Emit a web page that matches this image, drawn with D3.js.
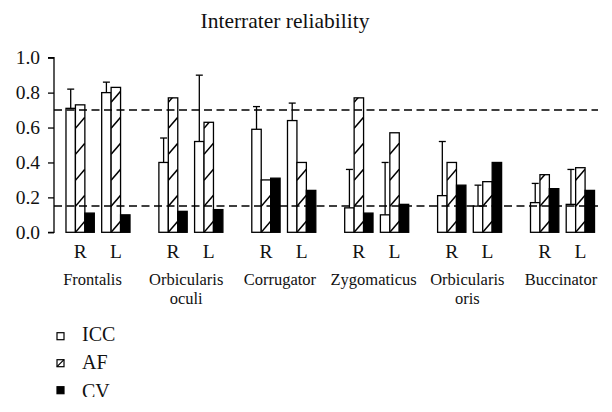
<!DOCTYPE html>
<html><head><meta charset="utf-8">
<script src="https://cdn.jsdelivr.net/npm/d3@7"></script>
<style>
body{margin:0;background:#fff;}
svg{display:block;}
</style></head>
<body>
<svg id="chart" width="612" height="412"></svg>
<script>
const muscles = ["Frontalis","Orbicularis oculi","Corrugator","Zygomaticus","Orbicularis oris","Buccinator"];
const muscleLabels = [["Frontalis"],["Orbicularis","oculi"],["Corrugator"],["Zygomaticus"],["Orbicularis","oris"],["Buccinator"]];
const sides = ["R","L"];
const measures = ["ICC","AF","CV"];
// values per muscle: [R, L]
const iccValues = [[0.71,0.80],[0.40,0.52],[0.59,0.64],[0.14,0.10],[0.21,0.15],[0.17,0.16]];
const iccUpper  = [[0.82,0.86],[0.54,0.90],[0.72,0.74],[0.36,0.40],[0.52,0.27],[0.28,0.36]];
const afValues  = [[0.73,0.83],[0.77,0.63],[0.30,0.40],[0.77,0.57],[0.40,0.29],[0.33,0.37]];
const cvValues  = [[0.11,0.10],[0.12,0.13],[0.31,0.24],[0.11,0.16],[0.27,0.40],[0.25,0.24]];
const yTicks = [0,0.2,0.4,0.6,0.8,1.0];
const thresholds = [0.7,0.15];
const title = "Interrater reliability";

const FONT = "'Liberation Serif','DejaVu Serif','Times New Roman',Times,serif";
const svg = d3.select("#chart").attr("font-family",FONT);
const y = d3.scaleLinear().domain([0,1]).range([232.3,57.7]);
const xM = d3.scaleBand().domain(muscles).range([54,606.5]).paddingInner(0.311).paddingOuter(0.129);
const xS = d3.scaleBand().domain(sides).range([0,xM.bandwidth()]).paddingInner(0.207);
const xB = d3.scaleBand().domain(measures).range([0,xS.bandwidth()]);
const xLab = d3.scalePoint().domain(muscles).range([92.5,561]);

function txt(sel){ return sel.style("font-family",FONT).attr("fill","#111"); }

// title
txt(svg.append("text")).attr("x",285).attr("y",28).attr("text-anchor","middle")
  .style("font-size","21.5px").text(title);

// y axis
const yAxis = d3.axisLeft(y).tickValues(yTicks).tickFormat(d3.format(".1f")).tickSize(6).tickPadding(8);
const ga = svg.append("g").attr("transform","translate(54,0)").call(yAxis).attr("font-family",FONT);
ga.select(".domain").attr("stroke","#000").attr("stroke-width",1.3).attr("d",`M-6,${y(1)}H0V${y(0)}H-6`);
ga.selectAll(".tick line").attr("stroke","#000").attr("stroke-width",1.3);
txt(ga.selectAll(".tick text")).style("font-size","19.5px");

const defs = svg.append("defs");
const rows = [];
muscles.forEach((m,i)=>{
  sides.forEach((s,j)=>{
    rows.push({m,i,s,j,ICC:iccValues[i][j],AF:afValues[i][j],CV:cvValues[i][j],up:iccUpper[i][j]});
  });
});

const gBars = svg.append("g");
rows.forEach((r,k)=>{
  const gx = xM(r.m)+xS(r.s);
  const bw = xB.bandwidth();
  const xi = gx+xB("ICC");
  const cx = xi+bw/2;
  gBars.append("line").attr("x1",cx).attr("x2",cx).attr("y1",y(r.ICC)).attr("y2",y(r.up)).attr("stroke","#000").attr("stroke-width",1.3);
  gBars.append("line").attr("x1",cx-3.5).attr("x2",cx+3.5).attr("y1",y(r.up)).attr("y2",y(r.up)).attr("stroke","#000").attr("stroke-width",1.3);
  gBars.append("rect").attr("x",xi).attr("y",y(r.ICC)).attr("width",bw).attr("height",y(0)-y(r.ICC))
    .attr("fill","#fff").attr("stroke","#000").attr("stroke-width",1.3);
  const xa = gx+xB("AF");
  const clipId = "clip"+k;
  defs.append("clipPath").attr("id",clipId).append("rect")
    .attr("x",xa).attr("y",y(r.AF)).attr("width",bw).attr("height",y(0)-y(r.AF));
  gBars.append("rect").attr("x",xa).attr("y",y(r.AF)).attr("width",bw).attr("height",y(0)-y(r.AF))
    .attr("fill","#fff");
  const hg = gBars.append("g").attr("clip-path",`url(#${clipId})`);
  for(let yy=y(0); yy>y(r.AF)-12; yy-=26){
    hg.append("line").attr("x1",xa).attr("y1",yy).attr("x2",xa+bw).attr("y2",yy-11)
      .attr("stroke","#000").attr("stroke-width",1.5);
  }
  gBars.append("rect").attr("x",xa).attr("y",y(r.AF)).attr("width",bw).attr("height",y(0)-y(r.AF))
    .attr("fill","none").attr("stroke","#000").attr("stroke-width",1.3);
  const xc = gx+xB("CV");
  gBars.append("rect").attr("x",xc).attr("y",y(r.CV)).attr("width",bw).attr("height",y(0)-y(r.CV))
    .attr("fill","#000").attr("stroke","#000").attr("stroke-width",1.3);
  txt(svg.append("text")).attr("x",gx+xS.bandwidth()/2).attr("y",258.3).attr("text-anchor","middle")
    .style("font-size","19.5px").text(r.s);
});

thresholds.forEach(t=>{
  svg.append("line").attr("x1",54).attr("x2",598).attr("y1",y(t)).attr("y2",y(t))
    .attr("stroke","#000").attr("stroke-width",1.5).attr("stroke-dasharray","8,4.5");
});

muscles.forEach((m,i)=>{
  const t = txt(svg.append("text")).attr("x",xLab(m)).attr("y",284.5).attr("text-anchor","middle").style("font-size","16.5px");
  muscleLabels[i].forEach((ln,li)=>{
    t.append("tspan").attr("x",xLab(m)).attr("dy",li===0?0:19.5).text(ln);
  });
});

// legend (the source figure is cropped just below the CV entry)
defs.append("clipPath").attr("id","legclip").append("rect").attr("x",0).attr("y",300).attr("width",612).attr("height",97);
const lg = svg.append("g").attr("clip-path","url(#legclip)");
measures.forEach((ms,i)=>{
  const yy = 332.7 + i*27;
  if(ms==="CV"){
    lg.append("rect").attr("x",57).attr("y",yy).attr("width",7).attr("height",7).attr("fill","#000").attr("stroke","#000").attr("stroke-width",1.2);
  } else {
    lg.append("rect").attr("x",57).attr("y",yy).attr("width",7).attr("height",7).attr("fill","#fff").attr("stroke","#000").attr("stroke-width",1.2);
    if(ms==="AF") lg.append("line").attr("x1",57).attr("y1",yy+7).attr("x2",64).attr("y2",yy).attr("stroke","#000").attr("stroke-width",1.2);
  }
  txt(lg.append("text")).attr("x",82).attr("y",340.7 + i*28.7).style("font-size","20px").text(ms);
});
</script>
</body></html>
